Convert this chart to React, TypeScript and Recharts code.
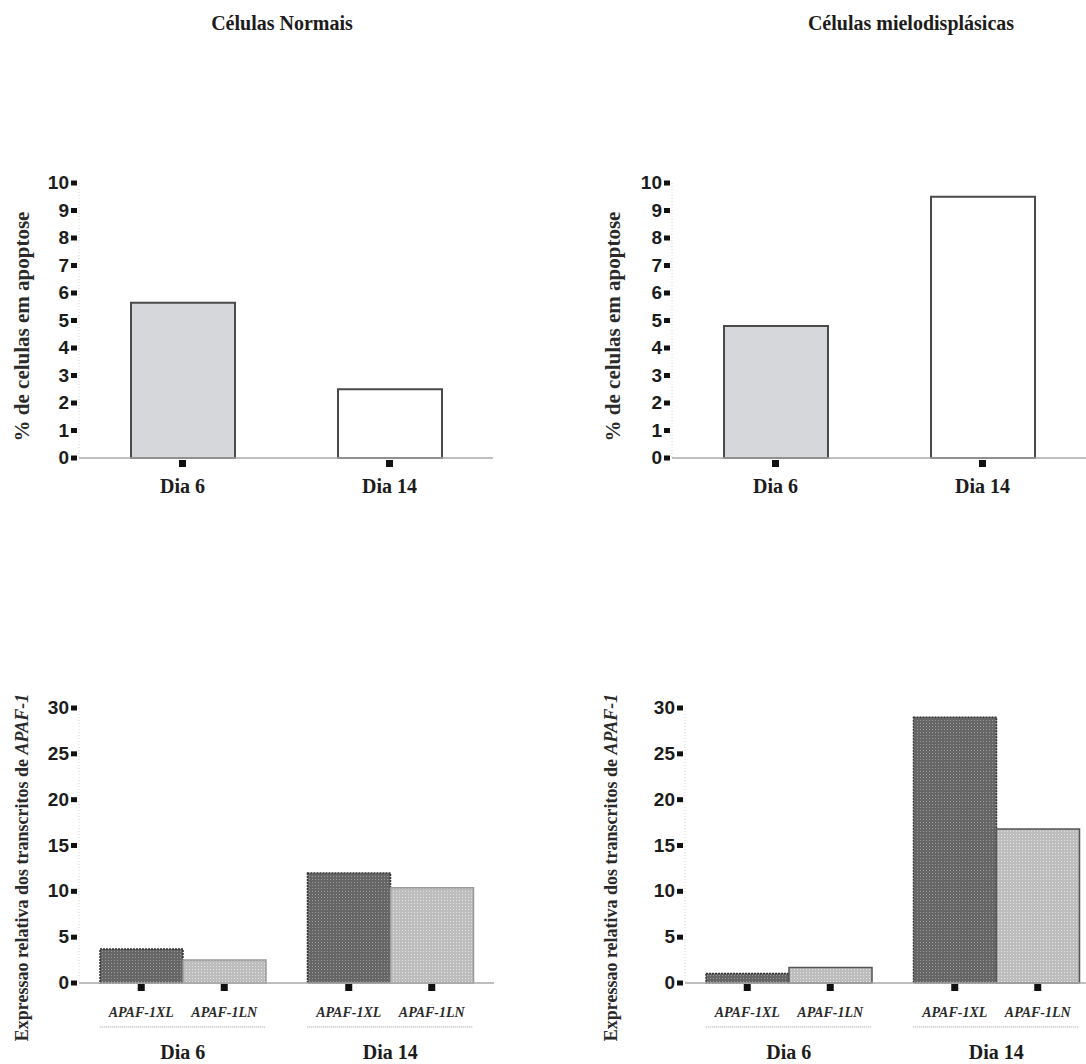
import React from 'react';
import { BarChart, Bar, XAxis, YAxis, Cell } from 'recharts';

const dias = ['Dia 6', 'Dia 14'];
const transcritos = ['APAF-1XL', 'APAF-1LN'];
const apoptoseNormais = [5.65, 2.5];
const apoptoseMielo = [4.8, 9.5];
const xlNormais = [3.7, 12.0];
const lnNormais = [2.5, 10.4];
const xlMielo = [1.05, 29.0];
const lnMielo = [1.7, 16.8];
const apoptoseTicks = [0, 1, 2, 3, 4, 5, 6, 7, 8, 9, 10];
const apafTicks = [0, 5, 10, 15, 20, 25, 30];

const SERIF = '"Liberation Serif", "Times New Roman", serif';
const SANS = '"Liberation Sans", Arial, sans-serif';
const INK = '#1c1c1c';

const serifBold: React.CSSProperties = { fontFamily: SERIF, fontWeight: 700 };
const sansBold: React.CSSProperties = { fontFamily: SANS, fontWeight: 700 };

function YTick({ x, y, payload }: any) {
  return (
    <g>
      <text x={x - 10} y={y} dy={6} textAnchor="end" style={sansBold} fontSize={19} fill={INK}>
        {payload.value}
      </text>
      <rect x={x - 8} y={y - 2.5} width={6} height={5} fill="#111" />
    </g>
  );
}

function DiaTick({ x, y, payload }: any) {
  return (
    <g>
      <rect x={x - 3.5} y={y + 2} width={7} height={7} fill="#111" />
      <text x={x} y={y + 35} textAnchor="middle" style={serifBold} fontSize={20} fill={INK}>
        {payload.value}
      </text>
    </g>
  );
}

function GroupTick({ x, y, payload, barSize }: any) {
  const half = barSize / 2;
  return (
    <g>
      {transcritos.map((t, i) => {
        const cx = x + (i === 0 ? -half : half);
        return (
          <g key={t}>
            <rect x={cx - 3.5} y={y + 1} width={7} height={7} fill="#111" />
            <text x={cx} y={y + 34} textAnchor="middle" style={{ ...serifBold, fontStyle: 'italic' }} fontSize={14} fill="#2a2a2a">
              {t}
            </text>
          </g>
        );
      })}
      <line x1={x - barSize} x2={x + barSize} y1={y + 44} y2={y + 44} stroke="#999" strokeDasharray="1 1" />
      <text x={x} y={y + 76} textAnchor="middle" style={serifBold} fontSize={20} fill={INK}>
        {payload.value}
      </text>
    </g>
  );
}

function YTitle({ viewBox, dx, dy, title, italic, fontSize }: any) {
  const cx = viewBox.x + dx;
  const cy = viewBox.y + viewBox.height / 2 + dy;
  return (
    <text
      x={cx}
      y={cy}
      transform={`rotate(-90 ${cx} ${cy})`}
      textAnchor="middle"
      dominantBaseline="central"
      style={serifBold}
      fontSize={fontSize}
      fill="#2a2a2a"
    >
      <tspan>{title}</tspan>
      {italic ? <tspan style={{ fontStyle: 'italic' }}>{italic}</tspan> : null}
    </text>
  );
}

function ApoptoseChart({ values, left, yWidth, titleDx }: any) {
  const data = dias.map((d, i) => ({ dia: d, valor: values[i] }));
  const fills = ['#d5d7da', '#ffffff'];
  return (
    <div style={{ position: 'absolute', left, top: 150 }}>
      <BarChart width={yWidth + 414} height={360} data={data} margin={{ top: 33, right: 0, bottom: 0, left: 0 }} barCategoryGap={0}>
        <YAxis
          width={yWidth}
          domain={[0, 10]}
          ticks={apoptoseTicks}
          interval={0}
          tickSize={0}
          tickMargin={0}
          tickLine={false}
          tick={<YTick />}
          axisLine={{ stroke: '#d6d6d6', strokeDasharray: '1 2' }}
          label={<YTitle dx={titleDx} dy={6} fontSize={21} title="% de celulas em apoptose" />}
        />
        <XAxis
          dataKey="dia"
          height={52}
          tickSize={0}
          tickMargin={0}
          tickLine={false}
          tick={<DiaTick />}
          axisLine={{ stroke: '#aaaaaa', strokeWidth: 1.5 }}
        />
        <Bar dataKey="valor" barSize={104} stroke="#4a4a4a" strokeWidth={2} isAnimationActive={false}>
          {data.map((d, i) => (
            <Cell key={d.dia} fill={fills[i]} />
          ))}
        </Bar>
      </BarChart>
    </div>
  );
}

function ApafChart({ xl, ln, left, yWidth, titleDx, id, lnStroke }: any) {
  const data = dias.map((d, i) => ({ dia: d, xl: xl[i], ln: ln[i] }));
  return (
    <div style={{ position: 'absolute', left, top: 660 }}>
      <BarChart width={yWidth + 415} height={404} data={data} margin={{ top: 48, right: 0, bottom: 0, left: 0 }} barGap={0}>
        <defs>
          <pattern id={`xl-${id}`} width={3} height={3} patternUnits="userSpaceOnUse">
            <rect width={3} height={3} fill="#666666" />
            <rect width={1} height={1} fill="#9a9a9a" />
          </pattern>
          <pattern id={`ln-${id}`} width={3} height={3} patternUnits="userSpaceOnUse">
            <rect width={3} height={3} fill="#bdbdbd" />
            <rect width={1} height={1} fill="#e2e2e2" />
          </pattern>
        </defs>
        <YAxis
          width={yWidth}
          domain={[0, 30]}
          ticks={apafTicks}
          interval={0}
          tickSize={0}
          tickMargin={0}
          tickLine={false}
          tick={<YTick />}
          axisLine={{ stroke: '#d6d6d6', strokeDasharray: '1 2' }}
          label={<YTitle dx={titleDx} dy={22} fontSize={18} title="Expressao relativa dos transcritos de " italic="APAF-1" />}
        />
        <XAxis
          dataKey="dia"
          height={81}
          tickSize={0}
          tickMargin={0}
          tickLine={false}
          tick={<GroupTick barSize={83} />}
          axisLine={{ stroke: '#aaaaaa', strokeWidth: 1.5 }}
        />
        <Bar dataKey="xl" barSize={83} fill={`url(#xl-${id})`} stroke="#333" strokeWidth={1.5} strokeDasharray="2 1" isAnimationActive={false} />
        <Bar dataKey="ln" barSize={83} fill={`url(#ln-${id})`} stroke={lnStroke} strokeWidth={1.5} isAnimationActive={false} />
      </BarChart>
    </div>
  );
}

const titleStyle: React.CSSProperties = {
  position: 'absolute',
  top: 13,
  width: 300,
  textAlign: 'center',
  fontFamily: SERIF,
  fontWeight: 'bold',
  fontSize: 20,
  lineHeight: '20px',
  color: INK,
};

export default function App() {
  return (
    <div style={{ position: 'absolute', left: 0, top: 0, width: 1086, height: 1064, overflow: 'hidden', background: '#fff' }}>
      <div style={{ ...titleStyle, left: 132 }}>Células Normais</div>
      <div style={{ ...titleStyle, left: 761 }}>Células mielodisplásicas</div>
      <ApoptoseChart values={apoptoseNormais} left={0} yWidth={79} titleDx={22} />
      <ApoptoseChart values={apoptoseMielo} left={590} yWidth={82} titleDx={23} />
      <ApafChart xl={xlNormais} ln={lnNormais} left={0} yWidth={79} titleDx={22} id="n" lnStroke="#9a9a9a" />
      <ApafChart xl={xlMielo} ln={lnMielo} left={590} yWidth={95} titleDx={21} id="m" lnStroke="#555" />
    </div>
  );
}
